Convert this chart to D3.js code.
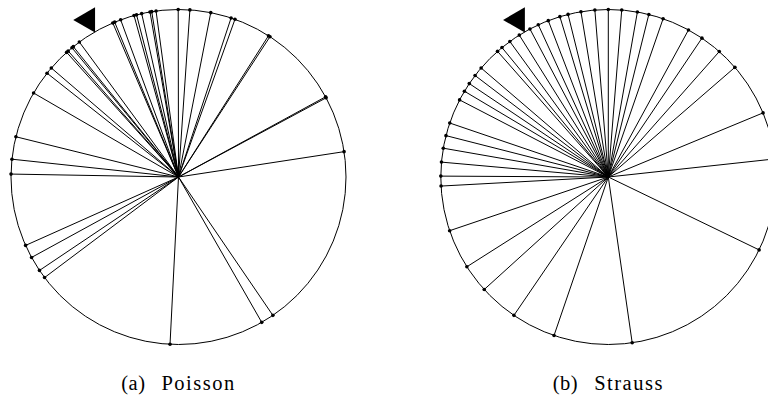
<!DOCTYPE html>
<html>
<head>
<meta charset="utf-8">
<script src="https://cdn.jsdelivr.net/npm/d3@7"></script>
<style>
  html, body { margin: 0; padding: 0; background: #fff; }
  svg { display: block; }
</style>
</head>
<body>
<svg id="chart" width="768" height="400"></svg>
<script>
// Angles (degrees, counter-clockwise from east) of the points on the unit circle
const poissonAngles = [90.1, 86.1, 78.9, 71.7, 70.3, 57.5, 56.9, 28.2, 28.6, 8.7,
  97.7, 99.2, 99.8, 102.7, 104.5, 105.4, 110.2, 112.4, 113.1,
  126.3, 128.9, 129.5, 131.2, 131.9, 139.4, 141.7, 149.9,
  166.1, 173.9, 179.0, 204.1, 208.7, 213.9, 216.9, 267.1, 299.8, 304.3];
const straussAngles = [90.0, 85.4, 80.0, 76.0, 70.9, 61.4, 56.0, 48.5, 40.9, 22.5, 6.2, 334.2,
  94.6, 99.4, 103.9, 106.8, 111.0, 114.7, 117.9, 122.1, 126.0, 129.4, 131.4,
  139.4, 142.7, 146.1, 149.2, 152.6, 161.2, 165.7, 170.1, 174.9, 179.7, 183.1,
  198.7, 212.4, 222.2, 235.7, 251.1, 278.2];
const captionTags = ["(a)", "(b)"];
const captionNames = ["Poisson", "Strauss"];
const markerAngle = 120; // direction marker (degrees)

const svg = d3.select("#chart");
const R = 167.5;
const rScale = d3.scaleLinear().domain([0, 1]).range([0, R]);
const rad = d => d * Math.PI / 180;

const panels = [
  { angles: poissonAngles, cx: 178.5, cy: 177, tag: captionTags[0], name: captionNames[0] },
  { angles: straussAngles, cx: 608.3, cy: 177, tag: captionTags[1], name: captionNames[1] }
];

panels.forEach(p => {
  const g = svg.append("g").attr("transform", `translate(${p.cx},${p.cy})`);
  g.append("circle").attr("r", rScale(1)).attr("fill", "none")
    .attr("stroke", "#000").attr("stroke-width", 1);
  const px = a => rScale(1) * Math.cos(rad(a));
  const py = a => -rScale(1) * Math.sin(rad(a));
  g.selectAll("line.spoke").data(p.angles).join("line")
    .attr("class", "spoke")
    .attr("x1", 0).attr("y1", 0)
    .attr("x2", px).attr("y2", py)
    .attr("stroke", "#000").attr("stroke-width", 1);
  g.selectAll("circle.pt").data(p.angles).join("circle")
    .attr("class", "pt")
    .attr("cx", px).attr("cy", py).attr("r", 1.8).attr("fill", "#000");
  // direction marker (left-pointing triangle) outside the circle
  const mr = rScale(1.083);
  g.append("path")
    .attr("d", d3.symbol().type(d3.symbolTriangle).size(275)())
    .attr("transform", `translate(${mr * Math.cos(rad(markerAngle))},${-mr * Math.sin(rad(markerAngle))}) rotate(-90)`)
    .attr("fill", "#000");
  const t = svg.append("text")
    .attr("x", p.cx).attr("y", 390)
    .attr("font-family", "'Liberation Serif', 'DejaVu Serif', serif")
    .attr("font-size", 20.5)
    .attr("fill", "#000");
  t.append("tspan").attr("letter-spacing", 0.5).text(p.tag);
  t.append("tspan").attr("dx", 16).attr("letter-spacing", 1.5).text(p.name);
  const w = t.node().getBBox().width;
  t.attr("x", p.cx - w / 2);
});
</script>
</body>
</html>
